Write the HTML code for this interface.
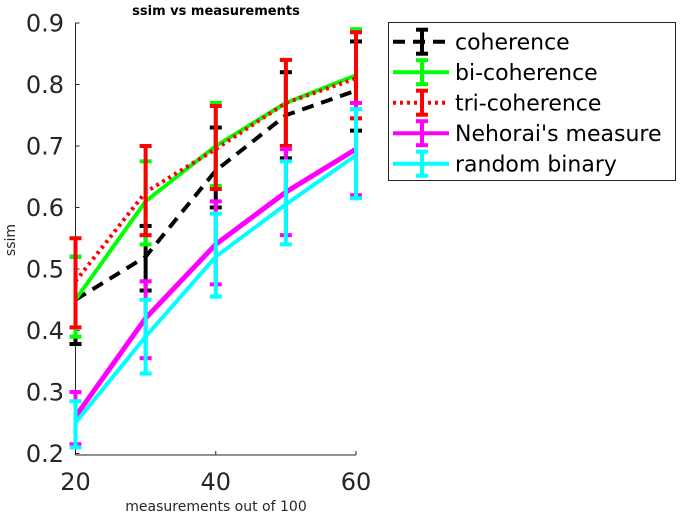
<!DOCTYPE html>
<html><head><meta charset="utf-8"><style>
body{margin:0;background:#fff;}
svg{display:block;font-family:"DejaVu Sans","Liberation Sans",sans-serif;}
</style></head><body>
<svg id="c" width="691" height="515" viewBox="0 0 691 515">
<g id="g"></g>
</svg>
<script>
const xs = [20,30,40,50,60];
const seriesNames = ["coherence","bi-coherence","tri-coherence","Nehorai's measure","random binary"];
const coherenceMean = [0.45,0.52,0.66,0.75,0.79];
const coherenceHi = [0.52,0.57,0.73,0.82,0.87];
const coherenceLo = [0.378,0.465,0.60,0.68,0.725];
const biMean = [0.45,0.61,0.70,0.77,0.815];
const biHi = [0.52,0.675,0.77,0.84,0.89];
const biLo = [0.39,0.54,0.635,0.70,0.745];
const triMean = [0.48,0.625,0.695,0.77,0.81];
const triHi = [0.55,0.70,0.765,0.84,0.885];
const triLo = [0.405,0.555,0.63,0.70,0.745];
const nehMean = [0.26,0.42,0.54,0.625,0.695];
const nehHi = [0.30,0.48,0.61,0.695,0.77];
const nehLo = [0.215,0.355,0.475,0.555,0.62];
const rndMean = [0.25,0.39,0.52,0.605,0.685];
const rndHi = [0.285,0.45,0.59,0.675,0.76];
const rndLo = [0.21,0.33,0.455,0.54,0.615];
const yTicks = [0.2,0.3,0.4,0.5,0.6,0.7,0.8,0.9];
const xTicks = [20,40,60];

const NS="http://www.w3.org/2000/svg";
const g=document.getElementById('g');
function X(v){return 75.5+(v-20)*(356-75.5)/40;}
function Y(v){return 23+(0.9-v)*615;}
function el(t,a,p){const e=document.createElementNS(NS,t);for(const k in a)e.setAttribute(k,a[k]);(p||g).appendChild(e);return e;}

let ax=el('line',{x1:75.5,y1:23,x2:75.5,y2:455,stroke:'#262626','stroke-width':1});


let bx=el('line',{x1:75.5,y1:455,x2:356,y2:455,stroke:'#262626','stroke-width':1});


yTicks.forEach(v=>{
  el('line',{x1:75.5,y1:Y(v),x2:79.5,y2:Y(v),stroke:'#262626'});
  const t=el('text',{x:64,y:Y(v)+8.5,'text-anchor':'end','font-size':24,fill:'#262626'});
  t.textContent=v.toFixed(1);
  
  
});
xTicks.forEach(v=>{
  el('line',{x1:X(v),y1:455,x2:X(v),y2:451,stroke:'#262626'});
  const t=el('text',{x:X(v),y:490,'text-anchor':'middle','font-size':24,fill:'#262626'});
  t.textContent=v;
  
  
});
let tt=el('text',{x:216,y:15,'text-anchor':'middle','font-size':13,'font-weight':'bold',fill:'#000'});
tt.textContent='ssim vs measurements';


let xl=el('text',{x:216,y:511,'text-anchor':'middle','font-size':14,fill:'#262626'});
xl.textContent='measurements out of 100';


let yl=el('text',{x:0,y:0,'text-anchor':'middle','font-size':14,fill:'#262626',transform:'translate(15,240) rotate(-90)'});
yl.textContent='ssim';



const styles=[
 {c:'#000',dash:'12,8',w:4,mean:coherenceMean,hi:coherenceHi,lo:coherenceLo},
 {c:'#00ff00',dash:'',w:4,mean:biMean,hi:biHi,lo:biLo},
 {c:'#ff0000',dash:'3,4',w:4,mean:triMean,hi:triHi,lo:triLo},
 {c:'#ff00ff',dash:'',w:5,mean:nehMean,hi:nehHi,lo:nehLo},
 {c:'#00ffff',dash:'',w:4,mean:rndMean,hi:rndHi,lo:rndLo}];
styles.forEach((s,i)=>{
  const sg=el('g',{});
  
  
  const pts=xs.map((x,j)=>X(x)+','+Y(s.mean[j])).join(' ');
  const pl=el('polyline',{points:pts,fill:'none',stroke:s.c,'stroke-width':s.w,'stroke-dasharray':s.dash},sg);
  
  
  xs.forEach((x,j)=>{
    const eb=el('g',{},sg);
    
    
    el('line',{x1:X(x),y1:Y(s.hi[j]),x2:X(x),y2:Y(s.lo[j]),stroke:s.c,'stroke-width':4},eb);
    el('line',{x1:X(x)-6,y1:Y(s.hi[j]),x2:X(x)+6,y2:Y(s.hi[j]),stroke:s.c,'stroke-width':4},eb);
    el('line',{x1:X(x)-6,y1:Y(s.lo[j]),x2:X(x)+6,y2:Y(s.lo[j]),stroke:s.c,'stroke-width':4},eb);
  });
});

const lg=el('g',{});


el('rect',{x:388.5,y:22.5,width:287,height:158,fill:'#fff',stroke:'#262626','stroke-width':1},lg);
styles.forEach((s,i)=>{
  const ry=41.7+i*30.5;
  const e=el('g',{},lg);
  
  
  el('line',{x1:393,y1:ry,x2:449,y2:ry,stroke:s.c,'stroke-width':4,'stroke-dasharray':s.dash},e);
  el('line',{x1:422,y1:ry-12,x2:422,y2:ry+12,stroke:s.c,'stroke-width':4},e);
  el('line',{x1:416,y1:ry-12,x2:428,y2:ry-12,stroke:s.c,'stroke-width':4},e);
  el('line',{x1:416,y1:ry+12,x2:428,y2:ry+12,stroke:s.c,'stroke-width':4},e);
  const t=el('text',{x:455,y:ry+8,'font-size':22,fill:'#000'},e);
  t.textContent=seriesNames[i];
});
</script>
</body></html>
